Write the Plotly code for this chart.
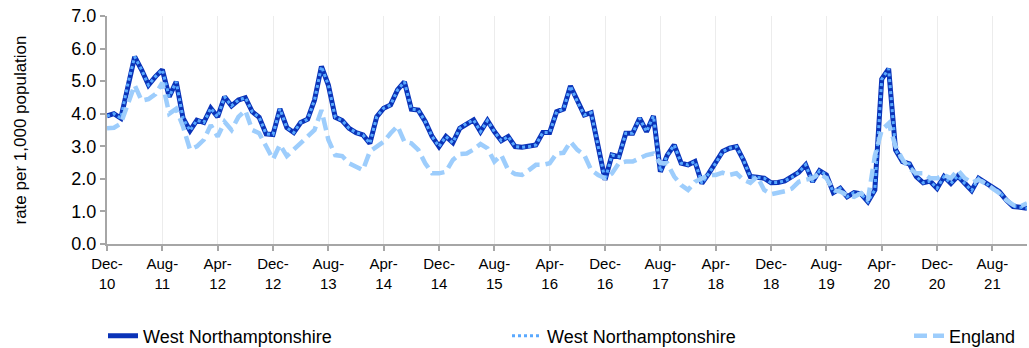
import pandas as pd
import plotly.graph_objects as go

months = [p.strftime("%b-%y") for p in pd.period_range("2010-12", periods=134, freq="M")]

west_northants = [
    3.93, 4.00, 3.86, 4.90, 5.75, 5.35, 4.88, 5.14, 5.35, 4.52,
    4.98, 3.86, 3.48, 3.80, 3.73, 4.17, 3.90, 4.52, 4.24, 4.42,
    4.49, 4.06, 3.89, 3.38, 3.36, 4.15, 3.57, 3.42, 3.73, 3.83,
    4.42, 5.45, 4.88, 3.89, 3.79, 3.55, 3.42, 3.35, 3.09, 3.91,
    4.17, 4.27, 4.73, 4.98, 4.14, 4.11, 3.76, 3.30, 2.99, 3.30,
    3.11, 3.55, 3.70, 3.81, 3.45, 3.79, 3.45, 3.17, 3.30, 2.99,
    2.97, 2.99, 3.04, 3.42, 3.42, 4.06, 4.14, 4.85, 4.37, 3.96,
    4.03, 2.95, 1.97, 2.73, 2.68, 3.40, 3.40, 3.86, 3.45, 3.93,
    2.22, 2.73, 3.04, 2.48, 2.43, 2.53, 1.86, 2.17, 2.48, 2.84,
    2.94, 2.99, 2.58, 2.07, 2.05, 2.02, 1.88, 1.89, 1.94, 2.05,
    2.20, 2.43, 1.91, 2.25, 2.12, 1.58, 1.71, 1.45, 1.58, 1.54,
    1.30, 1.66, 5.06, 5.38, 2.89, 2.53, 2.46, 2.07, 1.88, 1.93,
    1.71, 2.07, 1.86, 2.09, 1.86, 1.64, 2.02, 1.88, 1.71, 1.61,
    1.35, 1.15, 1.13, 1.10,
]

england = [
    3.55, 3.57, 3.70, 4.32, 4.88, 4.40, 4.45, 4.60, 4.95, 4.00,
    4.15, 3.60, 2.90, 3.00, 3.20, 3.65, 3.30, 3.75, 3.50, 3.90,
    4.10, 3.50, 3.40, 3.00, 2.60, 3.05, 2.70, 2.90, 3.10, 3.30,
    3.50, 4.11, 3.20, 2.73, 2.70, 2.48, 2.37, 2.27, 2.84, 2.99,
    3.14, 3.40, 3.62, 3.14, 3.09, 2.89, 2.48, 2.17, 2.17, 2.22,
    2.58, 2.76, 2.78, 2.90, 3.07, 2.94, 2.53, 2.73, 2.27, 2.15,
    2.12, 2.27, 2.43, 2.43, 2.48, 2.78, 2.80, 3.14, 2.89, 2.73,
    2.27, 2.12, 2.02, 2.17, 2.48, 2.53, 2.53, 2.63, 2.73, 2.78,
    2.48, 2.48, 2.07, 1.81, 1.66, 1.91, 2.02, 2.12, 2.12, 2.19,
    2.12, 2.17, 1.97, 1.88, 2.07, 1.66, 1.53, 1.56, 1.62, 1.70,
    1.91, 1.97, 2.02, 2.17, 2.02, 1.66, 1.61, 1.50, 1.45, 1.56,
    1.35, 2.70, 3.50, 3.70, 3.00, 2.60, 2.32, 2.17, 2.17, 2.02,
    2.02, 2.12, 2.02, 2.27, 2.02, 1.88, 1.97, 1.86, 1.71, 1.56,
    1.35, 1.20, 1.15, 1.25,
]

tick_idx = list(range(0, 134, 8))
tick_vals = [months[i] for i in tick_idx]
tick_text = [m.replace("-", "-<br>") for m in tick_vals]

FONT = "Liberation Sans, Arial, sans-serif"

fig = go.Figure()
fig.add_trace(go.Scatter(
    x=months, y=west_northants, mode="lines", name="West Northamptonshire",
    line=dict(color="#0a33b8", width=5), legend="legend", showlegend=True,
))
fig.add_trace(go.Scatter(
    x=months, y=west_northants, mode="lines", name="West Northamptonshire",
    line=dict(color="#5aa9ff", width=3, dash="dot"), legend="legend2", showlegend=True,
))
fig.add_trace(go.Scatter(
    x=months, y=england, mode="lines", name="England",
    line=dict(color="#9dcdfc", width=4.5, dash="13px,6px"), legend="legend3", showlegend=True,
))


def leg(x_px):
    return dict(
        orientation="h", xref="container", yref="container",
        x=x_px / 1029, xanchor="left", y=1 - 336 / 348, yanchor="middle",
        font=dict(size=18, family=FONT), bgcolor="rgba(0,0,0,0)",
        visible=True,
    )


fig.update_layout(
    width=1029, height=348,
    showlegend=True,
    margin=dict(l=107, r=2, t=16, b=104),
    paper_bgcolor="white", plot_bgcolor="white",
    font=dict(family=FONT, color="#000000"),
    legend=leg(103), legend2=leg(507), legend3=leg(909),
    xaxis=dict(
        type="category", range=[0, 133], automargin=False,
        tickmode="array", tickvals=tick_vals, ticktext=tick_text,
        tickfont=dict(size=15, family=FONT), tickangle=0,
        showgrid=True, gridcolor="#ececec", gridwidth=1,
        showline=True, linecolor="#a6a6a6", linewidth=2,
        ticks="outside", ticklen=5, tickcolor="#a6a6a6", tickwidth=1.5,
        zeroline=False,
    ),
    yaxis=dict(
        range=[0, 7], dtick=1, tickformat=".1f", automargin=False,
        tickfont=dict(size=18, family=FONT),
        showgrid=False, zeroline=False,
        showline=True, linecolor="#a6a6a6", linewidth=2,
        ticks="outside", ticklen=5, tickcolor="#a6a6a6", tickwidth=1.5,
        title=dict(text="rate per 1,000 population", font=dict(size=17, family=FONT), standoff=40),
    ),
)

fig.write_html(
    "out.html",
    config={"displayModeBar": False},
    post_script="document.body.style.margin='0';document.body.style.overflow='hidden';",
)
